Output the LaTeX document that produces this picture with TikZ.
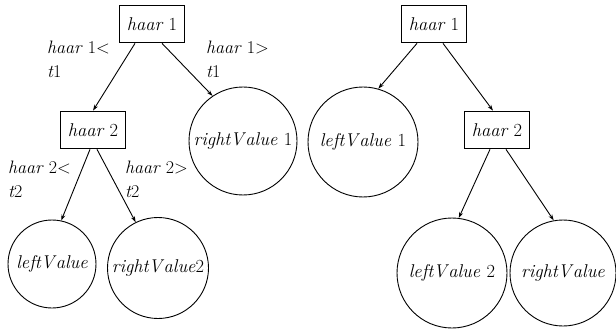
\documentclass[tikz,border=0pt]{standalone}
\usepackage{fontspec}
\usetikzlibrary{arrows.meta}
\newcommand{\vV}{V\kern1.5pt}
\begin{document}
\begin{tikzpicture}[x=1pt,y=-1pt,
  every node/.style={font=\fontsize{18.5}{22}\selectfont\itshape},
  boxnode/.style={draw,line width=1.7pt,minimum width=65pt,minimum height=37pt,inner sep=0pt},
  leaf/.style={draw,circle,line width=0.9pt,inner sep=0pt},
  cond/.style={anchor=north west,align=left,inner sep=0pt,font=\fontsize{18}{24}\selectfont\itshape},
  conn/.style={-{Stealth[length=6pt,width=4pt]},line width=0.9pt}]
\useasboundingbox (0,0) rectangle (616,334);
% left tree
\node[boxnode] (a1) at (152,24) {haar \upshape 1};
\node[boxnode] (a2) at (93,130) {haar \upshape 2};
\node[leaf,minimum size=108pt] (arv1) at (243,141) {right\vV alue \upshape 1};
\node[leaf,minimum size=88pt] (alv) at (52,264) {left\vV alue};
\node[leaf,minimum size=101pt] (arv2) at (158,268) {right\vV alue\upshape 2};
\draw[conn] ([xshift=-17pt]a1.south) -- (a2.north);
\draw[conn] ([xshift=10pt]a1.south) -- (arv1.124);
\draw[conn] ([xshift=-3pt]a2.south) -- (alv.78);
\draw[conn] ([xshift=4pt]a2.south) -- (arv2.116);
\node[cond] (c1) at (47,41) {haar \upshape 1<\\t\upshape 1};
\node[cond] (c2) at (206,41) {haar \upshape 1>\\t\upshape 1};
\node[cond] (c3) at (8,161) {haar \upshape 2<\\t\upshape 2};
\node[cond] (c4) at (125,161) {haar \upshape 2>\\t\upshape 2};
% right tree
\node[boxnode] (b1) at (434,24) {haar \upshape 1};
\node[boxnode] (b2) at (497,130) {haar \upshape 2};
\node[leaf,minimum size=110pt] (blv1) at (363,142) {left\vV alue \upshape 1};
\node[leaf,minimum size=110pt] (blv2) at (452,273) {left\vV alue \upshape 2};
\node[leaf,minimum size=106pt] (brv) at (563,273) {right\vV alue};
\draw[conn] ([xshift=-17pt]b1.south) -- (blv1.74);
\draw[conn] ([xshift=9pt]b1.south) -- ([xshift=-4pt]b2.north);
\draw[conn] ([xshift=-7pt]b2.south) -- (blv2.83);
\draw[conn] ([xshift=9pt]b2.south) -- (brv.100);
\end{tikzpicture}
\end{document}
